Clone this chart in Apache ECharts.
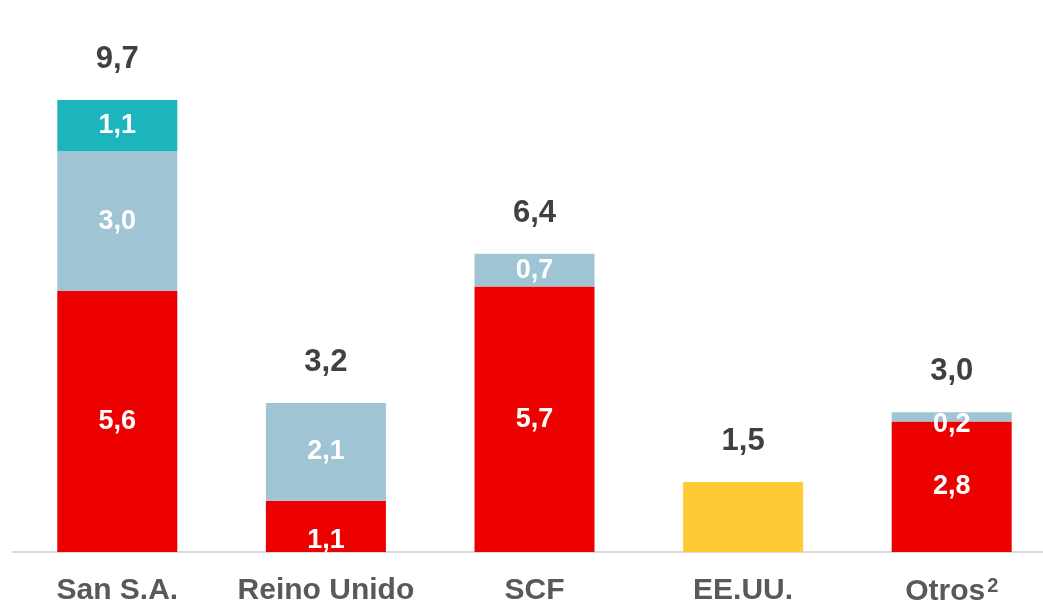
<!DOCTYPE html>
<html>
<head>
<meta charset="utf-8">
<script src="https://cdn.jsdelivr.net/npm/echarts@6/dist/echarts.min.js"></script>
<style>
  html, body { margin: 0; padding: 0; background: #ffffff; overflow: hidden; }
  #chart { width: 1056px; height: 609px; }
</style>
</head>
<body>
<div id="chart"></div>
<script>
// Categories and stacked components (bn €)
const categories = ['San S.A.', 'Reino Unido', 'SCF', 'EE.UU.', 'Otros'];
const redValues    = [5.6, 1.1, 5.7, null, 2.8];
const blueValues   = [3.0, 2.1, 0.7, null, 0.2];
const tealValues   = [1.1, null, null, null, null];
const yellowValues = [null, null, null, 1.5, null];
const totals       = [9.7, 3.2, 6.4, 1.5, 3.0];

const FONT = '"Liberation Sans", Arial, sans-serif';
const fmt = v => (v == null ? '' : Number(v).toFixed(1).replace('.', ','));

const innerLabel = {
  show: true,
  position: 'inside',
  color: '#ffffff',
  fontFamily: FONT,
  fontWeight: 'bold',
  fontSize: 27,
  formatter: p => fmt(p.value)
};

// per-bar label nudges for short segments
const redData = redValues.map((v, i) => {
  if (i === 1) return { value: v, label: { offset: [0, 14] } };
  return v;
});
const blueData = blueValues.map((v, i) => {
  if (i === 4) return { value: v, label: { offset: [0, 8] } };
  return v;
});

function stackSeries(name, data, color, withLabel) {
  return {
    name: name,
    type: 'bar',
    stack: 'total',
    barWidth: 120,
    data: data,
    itemStyle: { color: color },
    label: withLabel ? innerLabel : { show: false },
    emphasis: { disabled: true }
  };
}

const chart = echarts.init(document.getElementById('chart'));
chart.setOption({
  animation: false,
  grid: { left: 13, right: 0, top: 86, bottom: 57, containLabel: false },
  xAxis: {
    type: 'category',
    data: categories,
    axisLine: { show: true, lineStyle: { color: '#d9d9d9', width: 2 } },
    axisTick: { show: false },
    axisLabel: {
      interval: 0,
      margin: 24,
      color: '#595959',
      fontFamily: FONT,
      fontWeight: 'bold',
      fontSize: 30,
      formatter: v => (v === 'Otros' ? 'Otros{sup|2}' : v),
      rich: {
        sup: {
          color: '#595959',
          fontFamily: FONT,
          fontWeight: 'bold',
          fontSize: 20,
          verticalAlign: 'top',
          padding: [0, 0, 12, 2]
        }
      }
    }
  },
  yAxis: {
    type: 'value',
    min: 0,
    max: 10,
    show: false,
    splitLine: { show: false }
  },
  series: [
    stackSeries('rojo', redData, '#ec0000', true),
    stackSeries('azul', blueData, '#9fc4d4', true),
    stackSeries('turquesa', tealValues, '#1cb4bd', true),
    stackSeries('amarillo', yellowValues, '#ffca33', false),
    {
      name: 'total',
      type: 'bar',
      barWidth: 120,
      barGap: '-100%',
      data: totals,
      itemStyle: { color: 'rgba(0,0,0,0)' },
      emphasis: { disabled: true },
      silent: true,
      z: 1,
      label: {
        show: true,
        position: 'top',
        distance: 25,
        color: '#404040',
        fontFamily: FONT,
        fontWeight: 'bold',
        fontSize: 31,
        formatter: p => fmt(p.value)
      }
    }
  ]
});
</script>
</body>
</html>
